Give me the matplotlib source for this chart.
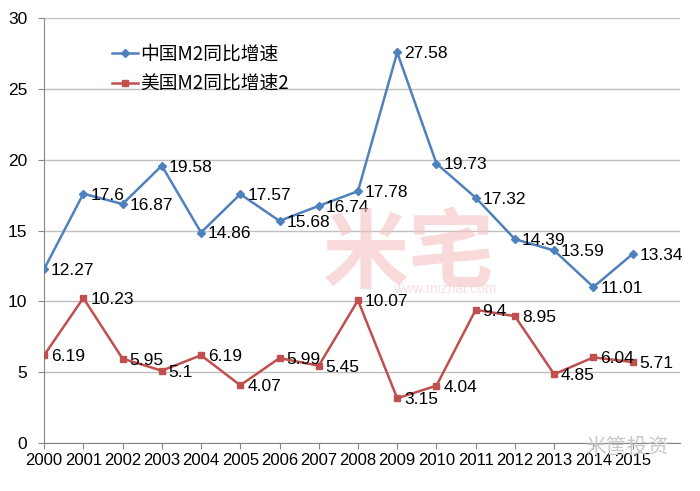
import matplotlib
matplotlib.use("Agg")
import matplotlib.pyplot as plt

plt.rcParams['font.family'] = ['Liberation Sans', 'Noto Sans CJK SC', 'DejaVu Sans']

years = list(range(2000, 2016))
china_m2 = [12.27, 17.6, 16.87, 19.58, 14.86, 17.57, 15.68, 16.74, 17.78, 27.58,
            19.73, 17.32, 14.39, 13.59, 11.01, 13.34]
us_m2 = [6.19, 10.23, 5.95, 5.1, 6.19, 4.07, 5.99, 5.45, 10.07, 3.15,
         4.04, 9.4, 8.95, 4.85, 6.04, 5.71]
china_label = '中国M2同比增速'
us_label = '美国M2同比增速2'
blue = '#4F81BD'
red = '#C0504D'

fig = plt.figure(figsize=(7, 4.91), dpi=100)
ax = fig.add_axes([0.063, 0.098, 0.908, 0.865])

# watermark
fig.text(0.585, 0.48, '米宅', fontsize=62, color='#F6C2C2', alpha=0.6,
         ha='center', va='center', family=['Noto Sans CJK SC'], fontweight='bold', zorder=0)
fig.text(0.635, 0.412, 'www.mizhai.com', fontsize=10, color='#F6CACA', alpha=0.6,
         ha='center', va='center', zorder=0)

ax.plot(years, china_m2, color=blue, marker='D', markersize=4, lw=1.8, label=china_label, zorder=3)
ax.plot(years, us_m2, color=red, marker='s', markersize=5, lw=1.8, label=us_label, zorder=3)

for x, y in zip(years, china_m2):
    ax.annotate(f'{y:g}', (x, y), xytext=(5, -1), textcoords='offset points',
                va='center', ha='left', fontsize=12.5, zorder=4)
for x, y in zip(years, us_m2):
    ax.annotate(f'{y:g}', (x, y), xytext=(5, -1), textcoords='offset points',
                va='center', ha='left', fontsize=12.5, zorder=4)

ax.set_xlim(2000, 2016.2)
ax.set_ylim(0, 30)
ax.set_yticks(range(0, 31, 5))
ax.set_xticks(years)
ax.set_xticklabels([str(y) for y in years])
ax.grid(axis='y', color='#BFBFBF', lw=1)
ax.set_axisbelow(True)
for s in ['top', 'right']:
    ax.spines[s].set_visible(False)
ax.spines['left'].set_color('#868686')
ax.spines['bottom'].set_color('#868686')
ax.tick_params(axis='both', labelsize=12.5, color='#868686', length=4)
ax.tick_params(axis='x', labelsize=12)
ax.tick_params(axis='y', pad=8)
ax.patch.set_alpha(0)

ax.legend(loc='upper left', bbox_to_anchor=(0.08, 0.98), frameon=False,
          handlelength=1.4, handletextpad=0.1, labelspacing=0.5,
          prop={'family': ['Noto Sans CJK SC'], 'size': 13.5})

fig.text(0.895, 0.09, '米筐投资', fontsize=15, color='#C8C8C8', family=['Noto Sans CJK SC'],
         ha='center', va='center', zorder=0)

fig.savefig('out.png', dpi=100)
